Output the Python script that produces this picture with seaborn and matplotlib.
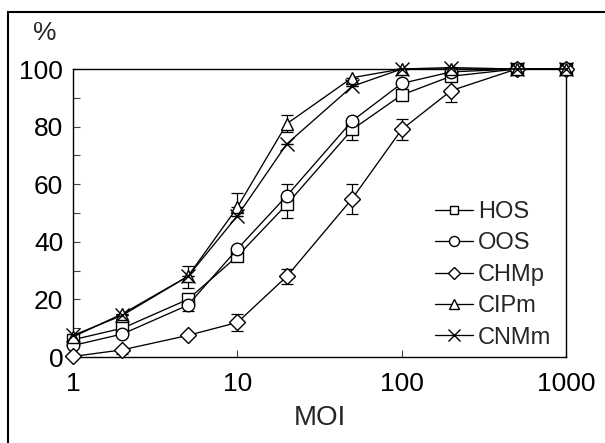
import numpy as np
import pandas as pd
import matplotlib
matplotlib.use("Agg")
import matplotlib.pyplot as plt
from matplotlib.patches import Rectangle
from matplotlib.ticker import FixedLocator, NullLocator
import seaborn as sns

# MOI values (x axis, log scale)
moi = [1, 2, 5, 10, 20, 50, 100, 200, 500, 1000]

# percent values per series
hos = [6, 10, 20, 35, 53, 79, 91, 97.5, 100, 100]
oos = [4, 8, 18, 37.5, 56, 82, 95, 99, 100, 100]
chmp = [0.2, 2.5, 7.5, 12, 28, 55, 79, 92.5, 100, 100]
cipm = [7, 15, 28, 52, 81, 97, 100, 100, 100, 100]
cnmm = [7.5, 14.5, 28, 49, 74, 94, 100, 100.5, 100, 100]

# error bars (lower, upper)
hos_lo = [0, 0, 2, 1, 4.6, 3.5, 1.7, 0, 0, 0]
hos_hi = [0, 0, 0, 0, 0, 0, 0, 0, 0, 0]
oos_lo = [0, 0, 2, 0, 0, 0, 0, 0, 0, 0]
oos_hi = [0, 0, 0, 0, 4, 0, 0, 0, 0, 0]
chmp_lo = [0, 1.5, 0, 3, 2.5, 5.2, 3.6, 4, 0, 0]
chmp_hi = [0, 0, 0, 3, 2.5, 5.2, 3.6, 0, 0, 0]
cipm_lo = [0, 0, 0, 0, 3, 0, 0, 0, 0, 0]
cipm_hi = [0, 0, 3.5, 5, 3, 0, 0, 0, 0, 0]
cnmm_lo = [0, 0, 4, 0, 0, 0, 0, 0, 0, 0]
cnmm_hi = [0, 0, 0, 0, 0, 0, 0, 0, 0, 0]

names = ["HOS", "OOS", "CHMp", "CIPm", "CNMm"]
values = [hos, oos, chmp, cipm, cnmm]
lows = [hos_lo, oos_lo, chmp_lo, cipm_lo, cnmm_lo]
highs = [hos_hi, oos_hi, chmp_hi, cipm_hi, cnmm_hi]
markers = ["s", "o", "D", "^", "x"]
sizes = [8, 9, 8, 9, 10]

sns.set_style("ticks")
plt.rcParams["font.family"] = ["Liberation Sans", "DejaVu Sans"]

fig = plt.figure(figsize=(6.05, 4.43), dpi=100)
ax = fig.add_axes([0.1207, 0.1941, 0.8149, 0.6501])

for name, vals, lo, hi, mk, ms in zip(names, values, lows, highs, markers, sizes):
    df = pd.DataFrame({"MOI": moi, "pct": vals})
    ax.errorbar(df["MOI"], df["pct"], yerr=[lo, hi], fmt="none",
                ecolor="black", elinewidth=0.9, capsize=4.5, capthick=0.9,
                clip_on=False, zorder=2)
    sns.lineplot(data=df, x="MOI", y="pct", ax=ax, color="black",
                 linewidth=0.95, marker=mk, markersize=ms,
                 markerfacecolor="white", markeredgecolor="black",
                 markeredgewidth=1.0, label=name, clip_on=False, zorder=3)

ax.set_xscale("log")
ax.set_xlim(1, 1000)
ax.set_ylim(0, 100)
ax.xaxis.set_major_locator(FixedLocator([1, 10, 100, 1000]))
ax.xaxis.set_minor_locator(NullLocator())
ax.set_xticklabels(["1", "10", "100", "1000"])
ax.yaxis.set_major_locator(FixedLocator([0, 20, 40, 60, 80, 100]))
ax.yaxis.set_minor_locator(FixedLocator([10, 30, 50, 70, 90]))
ax.tick_params(axis="both", which="both", direction="in", length=5,
               width=0.8, colors="#444444", labelcolor="black")
ax.tick_params(axis="x", labelsize=19, pad=11)
ax.tick_params(axis="y", labelsize=19, pad=7)
for s in ax.spines.values():
    s.set_visible(True)
    s.set_linewidth(1.0)
    s.set_color("black")

ax.set_xlabel("MOI", fontsize=20, labelpad=6)
ax.set_ylabel("")
fig.text(45 / 605, 1 - 33 / 443, "%", fontsize=19, ha="center", va="center")

leg = ax.legend(loc="upper left", bbox_to_anchor=(0.735, 0.542), frameon=False,
                fontsize=17, handlelength=1.6, handletextpad=0.2,
                labelspacing=0.4, markerscale=0.8, borderpad=0,
                borderaxespad=0)

fig.add_artist(Rectangle((8 / 605, -0.05), 1.1, 1 - 12 / 443 + 0.05,
                         transform=fig.transFigure, fill=False,
                         edgecolor="black", linewidth=1.5))

fig.savefig("out.png", dpi=100)
